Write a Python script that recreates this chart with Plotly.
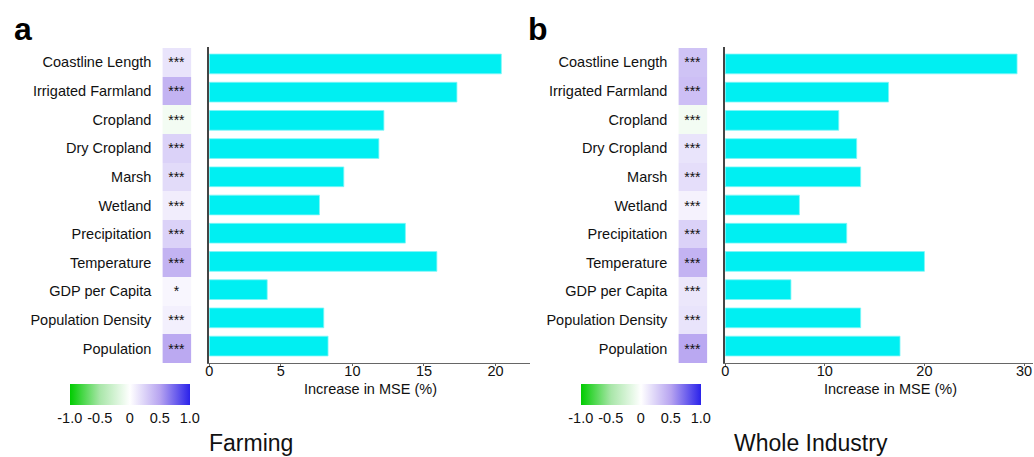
import plotly.graph_objects as go

W, H = 1034, 457

variables = ["Coastline Length", "Irrigated Farmland", "Cropland", "Dry Cropland", "Marsh",
             "Wetland", "Precipitation", "Temperature", "GDP per Capita",
             "Population Density", "Population"]

farming_mse = [20.4, 17.3, 12.2, 11.85, 9.4, 7.7, 13.7, 15.9, 4.05, 8.0, 8.3]
industry_mse = [29.3, 16.4, 11.4, 13.2, 13.6, 7.45, 12.2, 20.0, 6.6, 13.6, 17.55]

farming_corr = [0.15, 0.42, -0.07, 0.25, 0.2, 0.1, 0.25, 0.42, 0.05, 0.08, 0.47]
industry_corr = [0.33, 0.35, -0.07, 0.15, 0.18, 0.07, 0.25, 0.42, 0.13, 0.15, 0.48]

farming_sig = ["***", "***", "***", "***", "***", "***", "***", "***", "*", "***", "***"]
industry_sig = ["***"] * 11

cb_tickvals = [-1, -0.5, 0, 0.5, 1]
cb_ticktext = ["-1.0", "-0.5", "0", "0.5", "1.0"]

FONT = "Arial, Liberation Sans, sans-serif"
colorscale = [[0.0, "#00cc00"], [0.25, "#a9e6a9"], [0.5, "#ffffff"],
              [0.75, "#b7a4f0"], [1.0, "#2a22ea"]]


def px_x(a, b):
    return [a / W, b / W]


def px_y(top, bottom):
    return [1 - bottom / H, 1 - top / H]


fig = go.Figure()


def add_panel(idx, corr, sig, mse, cb_x):
    xh = "x" if idx == 0 else "x3"
    xb = "x2" if idx == 0 else "x4"
    yh = "y" if idx == 0 else "y3"
    yb = "y2" if idx == 0 else "y4"
    fig.add_trace(go.Heatmap(
        z=[[v] for v in corr], x=[0], y=variables, text=[[s] for s in sig],
        texttemplate="%{text}", textfont=dict(size=14, color="#111", family=FONT),
        colorscale=colorscale, zmin=-1, zmax=1, xgap=0, ygap=0,
        xaxis=xh, yaxis=yh, hoverinfo="skip",
        colorbar=dict(orientation="h", x=cb_x[0] / W, xanchor="left",
                      len=(cb_x[1] - cb_x[0]) / W, lenmode="fraction",
                      y=1 - 384 / H, yanchor="top", thickness=21,
                      outlinewidth=0, xpad=0, ypad=0,
                      tickvals=cb_tickvals, ticktext=cb_ticktext, ticks="",
                      tickfont=dict(size=14.5, family=FONT, color="#111")),
    ))
    fig.add_trace(go.Bar(
        x=mse, y=variables, orientation="h", width=0.7,
        marker=dict(color="#00eff2", line=dict(color="#7ff6f8", width=0.8)),
        xaxis=xb, yaxis=yb, hoverinfo="skip", showlegend=False,
    ))


add_panel(0, farming_corr, farming_sig, farming_mse, (66, 186))
add_panel(1, industry_corr, industry_sig, industry_mse, (579, 699))

cat_range_h = [10.5, -0.5]
cat_range_b = [10.6, -0.6]

hm_y = dict(domain=px_y(48, 363), range=cat_range_h, type="category", showline=False,
            showgrid=False, zeroline=False, ticks="", ticklabelstandoff=10,
            tickfont=dict(size=14.5, family=FONT, color="#111"))
bar_y = dict(domain=px_y(47, 363), range=cat_range_b, type="category", showline=True,
             linecolor="#444", linewidth=1.5, showticklabels=False, ticks="",
             showgrid=False, zeroline=False)
hm_x = dict(showticklabels=False, showgrid=False, zeroline=False, showline=False, ticks="")


def bar_x(dom, rng, dt):
    return dict(domain=dom, range=[0, rng], showline=True, linecolor="#666", linewidth=1,
                ticks="outside", ticklen=2, tickcolor="#666", dtick=dt, showgrid=False,
                zeroline=False, ticklabelstandoff=-7,
                tickfont=dict(size=14.5, family=FONT, color="#111"))


fig.update_layout(
    width=W, height=H, margin=dict(l=0, r=0, t=0, b=0),
    plot_bgcolor="white", paper_bgcolor="white",
    font=dict(family=FONT, color="#111"),
    showlegend=False,
    xaxis=dict(domain=px_x(159, 188), anchor="y", **hm_x),
    yaxis=dict(anchor="x", **hm_y),
    xaxis2=dict(anchor="y2", **bar_x(px_x(206, 528), 22.4, 5)),
    yaxis2=dict(anchor="x2", **bar_y),
    xaxis3=dict(domain=px_x(677, 706), anchor="y3", **hm_x),
    yaxis3=dict(anchor="x3", **hm_y),
    xaxis4=dict(anchor="y4", **bar_x(px_x(724, 1033), 30.9, 10)),
    yaxis4=dict(anchor="x4", **bar_y),
)

annots = [
    dict(text="<b>a</b>", x=8 / W, y=1 - 29 / H, xanchor="left", yanchor="middle",
         font=dict(size=32, family=FONT, color="#000")),
    dict(text="<b>b</b>", x=524 / W, y=1 - 29 / H, xanchor="left", yanchor="middle",
         font=dict(size=32, family=FONT, color="#000")),
    dict(text="Increase in MSE (%)", x=368 / W, y=1 - 389 / H, xanchor="center",
         yanchor="middle", font=dict(size=14.5, family=FONT, color="#111")),
    dict(text="Increase in MSE (%)", x=890 / W, y=1 - 389 / H, xanchor="center",
         yanchor="middle", font=dict(size=14.5, family=FONT, color="#111")),
    dict(text="Farming", x=204 / W, y=1 - 443 / H, xanchor="left", yanchor="middle",
         font=dict(size=23, family=FONT, color="#111")),
    dict(text="Whole Industry", x=731 / W, y=1 - 443 / H, xanchor="left", yanchor="middle",
         font=dict(size=23, family=FONT, color="#111")),
]
for a in annots:
    a.update(xref="paper", yref="paper", showarrow=False)
fig.update_layout(annotations=annots)

fig.write_html("out.html", config={"displayModeBar": False},
               post_script="document.body.style.margin='0';document.body.style.padding='0';"
                           "document.body.style.overflow='hidden';")
